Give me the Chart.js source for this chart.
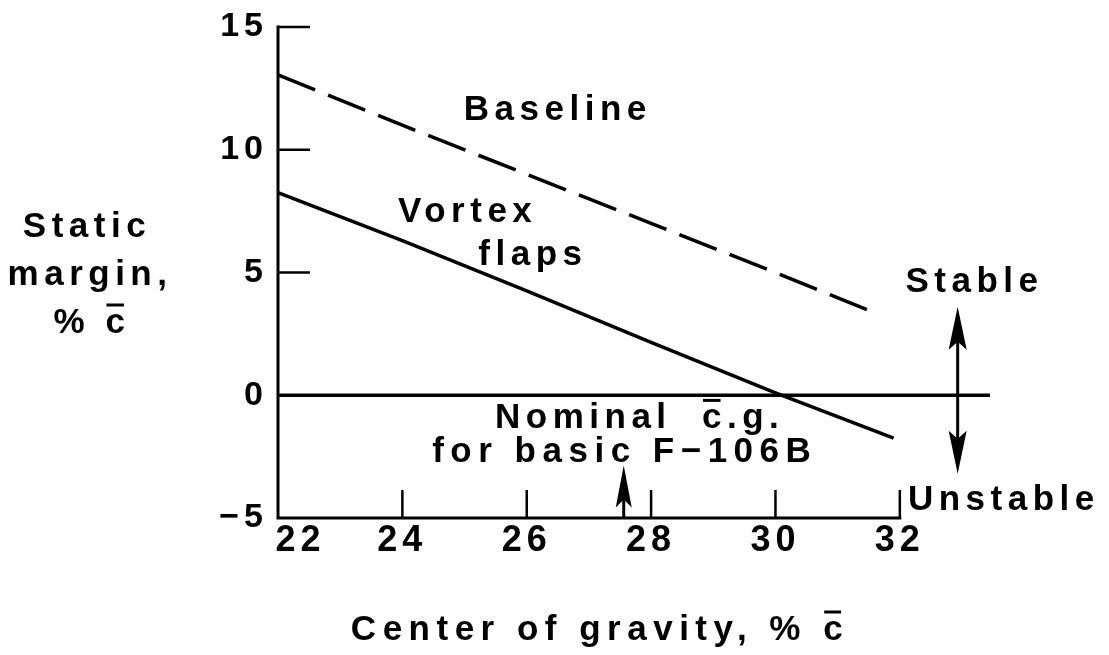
<!DOCTYPE html>
<html>
<head>
<meta charset="utf-8">
<script src="https://cdn.jsdelivr.net/npm/chart.js@4.4.0/dist/chart.umd.min.js"></script>
<style>
  html, body { margin: 0; padding: 0; background: #fff; }
  canvas { display: block; }
</style>
</head>
<body>
<canvas id="grafico" width="1109" height="655"></canvas>
<script>
// Datos (centro de gravedad vs margen estatico)
const baselineX = [22, 24, 26, 28, 30, 31.65];
const baselineY = [13.05, 11.0, 9.0, 7.0, 5.0, 3.3];
const vortexX = [22, 24, 26, 28, 30, 31.9];
const vortexY = [8.25, 6.3, 4.25, 2.15, 0.1, -1.75];
const zeroX = [22, 33.45];
const zeroY = [0, 0];

const xTicks = [22, 24, 26, 28, 30, 32];
const xTickLabels = ["   22", "24", "26", "28", "30", "32"];
const yTicks = [-5, 0, 5, 10, 15];
const yTickLabels = ["\u22125", "0", "5", "10", "15"];

const nominalCg = 27.56; // flecha del c.g. nominal
const flechaX = 32.93;   // flecha doble Stable / Unstable

const FUENTE = '"Liberation Sans", Arial, sans-serif';

// convierte dos arrays en puntos {x, y}
function puntos(xs, ys) {
  return xs.map((v, i) => ({ x: v, y: ys[i] }));
}

// fondo blanco y espaciado de letras para las etiquetas de los ejes
const fondo = {
  id: "fondo",
  beforeDraw(chart) {
    const c = chart.ctx;
    c.save();
    c.fillStyle = "#fff";
    c.fillRect(0, 0, chart.width, chart.height);
    c.restore();
    c.letterSpacing = "5px";
  }
};

function punta(c, x, y, dir, largo, ancho) {
  // dir = -1 apunta hacia arriba, 1 hacia abajo
  c.beginPath();
  c.moveTo(x, y);
  c.lineTo(x - ancho, y - dir * largo);
  c.lineTo(x, y - dir * (largo - 8));
  c.lineTo(x + ancho, y - dir * largo);
  c.closePath();
  c.fill();
}

// texto con una barra encima de la letra en la posicion idx (c barra)
function textoBarra(c, t, idx, x, y, al, tam, esp) {
  const w = c.measureText(t).width;
  const izq = al === "center" ? x - w / 2 : x;
  c.textAlign = "left";
  c.fillText(t, izq, y);
  const xc = izq + c.measureText(t.slice(0, idx)).width;
  const wc = c.measureText(t[idx]).width - esp;
  c.save();
  c.lineWidth = 3;
  c.beginPath();
  c.moveTo(xc + 1, y - tam * 0.8);
  c.lineTo(xc + wc - 1, y - tam * 0.8);
  c.stroke();
  c.restore();
}

// ejes, marcas, flechas y textos
const anotaciones = {
  id: "anotaciones",
  afterDraw(chart) {
    const c = chart.ctx;
    const sx = chart.scales.x;
    const sy = chart.scales.y;
    const px = v => sx.getPixelForValue(v);
    const py = v => sy.getPixelForValue(v);

    c.save();
    c.strokeStyle = "#000";
    c.fillStyle = "#000";

    // ejes
    c.lineWidth = 3;
    c.lineCap = "square";
    c.beginPath();
    c.moveTo(px(22), py(15));
    c.lineTo(px(22), py(-5));
    c.lineTo(px(32), py(-5));
    c.stroke();

    // marcas hacia adentro
    c.lineCap = "butt";
    c.lineWidth = 2.5;
    [15, 10, 5].forEach(v => {
      c.beginPath();
      c.moveTo(px(22), py(v));
      c.lineTo(px(22) + 32, py(v));
      c.stroke();
    });
    xTicks.slice(1).forEach(v => {
      c.beginPath();
      c.moveTo(px(v), py(-5));
      c.lineTo(px(v), py(-5) - 28);
      c.stroke();
    });

    // flecha doble
    c.lineWidth = 3;
    const arriba = py(3.6), abajo = py(-3.2);
    c.beginPath();
    c.moveTo(px(flechaX), arriba + 20);
    c.lineTo(px(flechaX), abajo - 20);
    c.stroke();
    punta(c, px(flechaX), arriba, -1, 43, 9);
    punta(c, px(flechaX), abajo, 1, 43, 9);

    // flecha del c.g. nominal
    const tope = py(-2.86);
    c.beginPath();
    c.moveTo(px(nominalCg), py(-5));
    c.lineTo(px(nominalCg), tope + 20);
    c.stroke();
    punta(c, px(nominalCg), tope, -1, 42, 8);

    // textos dentro del grafico
    c.font = "bold 35px " + FUENTE;
    c.letterSpacing = "5.5px";
    c.textBaseline = "alphabetic";
    const texto = (t, x, y, al) => {
      c.textAlign = al;
      c.fillText(t, px(x), py(y));
    };
    texto("Baseline", 26.5, 11.22, "center");
    texto("Vortex", 25.05, 7.06, "center");
    texto("flaps", 26.1, 5.31, "center");
    texto("Stable", 33.2, 4.2, "center");
    texto("Unstable", 32.13, -4.69, "left");
    textoBarra(c, "Nominal  c.g.", 9, px(25.49), py(-1.35), "left", 35, 5.5);
    c.letterSpacing = "6.5px";
    texto("for basic F\u2212106B", 24.48, -2.73, "left");

    // titulos de los ejes
    c.letterSpacing = "5.5px";
    c.textAlign = "center";
    c.fillText("Static", 87, 237);
    c.fillText("margin,", 90, 285);
    textoBarra(c, "% c", 2, 92, 333, "center", 35, 5.5);
    c.letterSpacing = "6.5px";
    textoBarra(c, "Center of gravity, % c", 21, 600, 640, "center", 35, 7);

    c.restore();
  }
};

const ctx = document.getElementById("grafico").getContext("2d");

const chart = new Chart(ctx, {
  type: "scatter",
  data: {
    datasets: [
      {
        label: "Baseline",
        data: puntos(baselineX, baselineY),
        showLine: true,
        borderColor: "#000",
        borderWidth: 3.5,
        borderDash: [40, 14],
        pointRadius: 0,
        tension: 0
      },
      {
        label: "Vortex flaps",
        data: puntos(vortexX, vortexY),
        showLine: true,
        borderColor: "#000",
        borderWidth: 3.5,
        pointRadius: 0,
        tension: 0
      },
      {
        label: "cero",
        data: puntos(zeroX, zeroY),
        showLine: true,
        borderColor: "#000",
        borderWidth: 3.5,
        pointRadius: 0
      }
    ]
  },
  options: {
    responsive: false,
    animation: false,
    events: [],
    layout: { padding: { left: 0, right: 119, top: 27, bottom: 0 } },
    plugins: {
      legend: { display: false },
      tooltip: { enabled: false }
    },
    scales: {
      x: {
        type: "linear",
        min: 22,
        max: 33.45,
        grid: { display: false, drawTicks: false },
        border: { display: false },
        afterBuildTicks: s => { s.ticks = xTicks.map(v => ({ value: v })); },
        afterFit: s => { s.height = 137; s.paddingLeft = 0; s.paddingRight = 0; },
        ticks: {
          color: "#000",
          padding: 1,
          font: { family: FUENTE, size: 36, weight: "bold" },
          callback: v => xTickLabels[xTicks.indexOf(v)]
        }
      },
      y: {
        min: -5,
        max: 15,
        grid: { display: false, drawTicks: false },
        border: { display: false },
        afterBuildTicks: s => { s.ticks = yTicks.map(v => ({ value: v })); },
        afterFit: s => { s.width = 278; s.paddingTop = 0; s.paddingBottom = 0; },
        ticks: {
          color: "#000",
          padding: 10,
          font: { family: FUENTE, size: 34, weight: "bold" },
          callback: v => yTickLabels[yTicks.indexOf(v)]
        }
      }
    }
  },
  plugins: [fondo, anotaciones]
});
</script>
</body>
</html>
